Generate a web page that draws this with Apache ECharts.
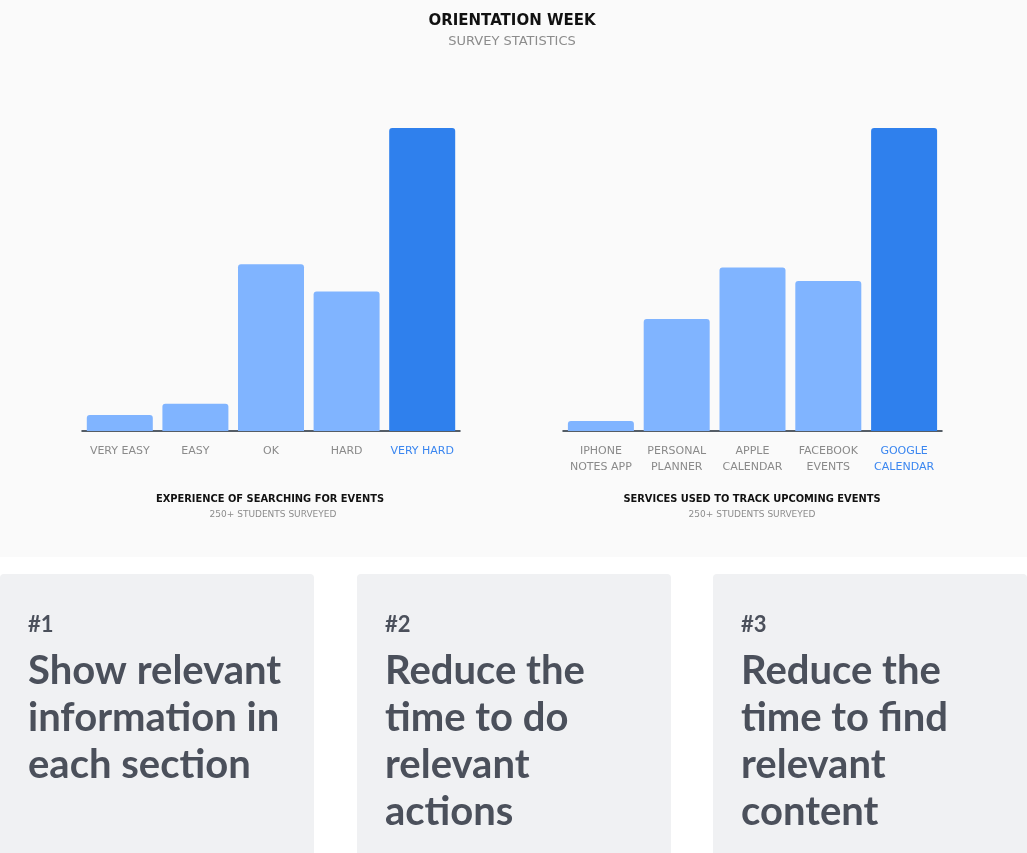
<!DOCTYPE html>
<html>
<head>
<meta charset="utf-8">
<script src="https://cdn.jsdelivr.net/npm/echarts@6/dist/echarts.min.js"></script>
<style>
html,body{margin:0;padding:0;background:#fff;}
#c{width:1027px;height:853px;}
</style>
</head>
<body>
<div id="c"></div>
<script>
// Data
var leftCategories = ['VERY EASY', 'EASY', 'OK', 'HARD', 'VERY HARD'];
var leftValues = [5.3, 9, 55, 46, 100];
var rightCategories = ['IPHONE\nNOTES APP', 'PERSONAL\nPLANNER', 'APPLE\nCALENDAR', 'FACEBOOK\nEVENTS', 'GOOGLE\nCALENDAR'];
var rightValues = [3.3, 37, 54, 49.5, 100];
var highlightIndex = 4;
var mainTitle = 'ORIENTATION WEEK';
var mainSubtitle = 'SURVEY STATISTICS';
var leftTitle = 'EXPERIENCE OF SEARCHING FOR EVENTS';
var rightTitle = 'SERVICES USED TO TRACK UPCOMING EVENTS';
var chartSubtitle = '250+ STUDENTS SURVEYED';
var cardNumbers = ['#1', '#2', '#3'];
var cardTexts = [
  'Show relevant\ninformation in\neach section',
  'Reduce the\ntime to do\nrelevant\nactions',
  'Reduce the\ntime to find\nrelevant\ncontent'
];

var LIGHT = '#80b4ff';
var DARK = '#2f80ed';
var HL_TEXT = '#3a86f0';
var FONT = '"DejaVu Sans", "Noto Sans", sans-serif';

function cats(list) {
  return list.map(function (c, i) {
    return i === highlightIndex ? { value: c, textStyle: { color: HL_TEXT } } : c;
  });
}
function vals(list) {
  return list.map(function (v, i) {
    return { value: v, itemStyle: { color: i === highlightIndex ? DARK : LIGHT } };
  });
}

var chart = echarts.init(document.getElementById('c'));

var cardX = [0, 357, 713];
var graphics = [
  { type: 'rect', shape: { x: 0, y: 0, width: 1027, height: 557 }, style: { fill: '#fafafa' }, silent: true, z: -10 },
  { type: 'text', x: 512, y: 21, style: { text: mainTitle, font: 'bold 15px ' + FONT, fill: '#111', align: 'center', verticalAlign: 'middle' } },
  { type: 'text', x: 512, y: 42, style: { text: mainSubtitle, font: '13px ' + FONT, fill: '#8c8c8c', align: 'center', verticalAlign: 'middle' } },
  { type: 'text', x: 270, y: 499, style: { text: leftTitle, font: 'bold 9.9px ' + FONT, fill: '#111', align: 'center', verticalAlign: 'middle' } },
  { type: 'text', x: 273, y: 515, style: { text: chartSubtitle, font: '9px ' + FONT, fill: '#8c8c8c', align: 'center', verticalAlign: 'middle' } },
  { type: 'text', x: 752, y: 499, style: { text: rightTitle, font: 'bold 9.9px ' + FONT, fill: '#111', align: 'center', verticalAlign: 'middle' } },
  { type: 'text', x: 752, y: 515, style: { text: chartSubtitle, font: '9px ' + FONT, fill: '#8c8c8c', align: 'center', verticalAlign: 'middle' } }
];
cardX.forEach(function (x, i) {
  graphics.push({ type: 'rect', shape: { x: x, y: 574, width: 314, height: 300, r: 4 }, style: { fill: '#f0f1f3' }, silent: true });
  graphics.push({ type: 'text', x: x + 28, y: 625, style: { text: cardNumbers[i], font: 'bold 22px Lato', fill: '#4b505b', verticalAlign: 'middle' } });
  graphics.push({ type: 'text', x: x + 28, y: 648, style: { text: cardTexts[i], font: 'bold 40px Lato', fill: '#4b505b', lineHeight: 47, verticalAlign: 'top' } });
});

function xAxisCfg(gi, data) {
  return {
    type: 'category', gridIndex: gi, data: cats(data),
    axisLine: { lineStyle: { color: '#1f2a36', width: 1.5 } },
    axisTick: { show: false },
    axisLabel: { color: '#8a8a8a', fontSize: 11, fontFamily: FONT, margin: 12, lineHeight: 16, interval: 0 }
  };
}
function yAxisCfg(gi) {
  return { type: 'value', gridIndex: gi, min: 0, max: 100, show: false, splitLine: { show: false } };
}

chart.setOption({
  backgroundColor: '#ffffff',
  animation: false,
  grid: [
    { left: 82, width: 378, top: 128, height: 303 },
    { left: 563, width: 379, top: 128, height: 303 }
  ],
  xAxis: [xAxisCfg(0, leftCategories), xAxisCfg(1, rightCategories)],
  yAxis: [yAxisCfg(0), yAxisCfg(1)],
  series: [
    { type: 'bar', xAxisIndex: 0, yAxisIndex: 0, data: vals(leftValues), barWidth: 66, itemStyle: { borderRadius: [3, 3, 0, 0] } },
    { type: 'bar', xAxisIndex: 1, yAxisIndex: 1, data: vals(rightValues), barWidth: 66, itemStyle: { borderRadius: [3, 3, 0, 0] } }
  ],
  graphic: graphics
});
</script>
</body>
</html>
